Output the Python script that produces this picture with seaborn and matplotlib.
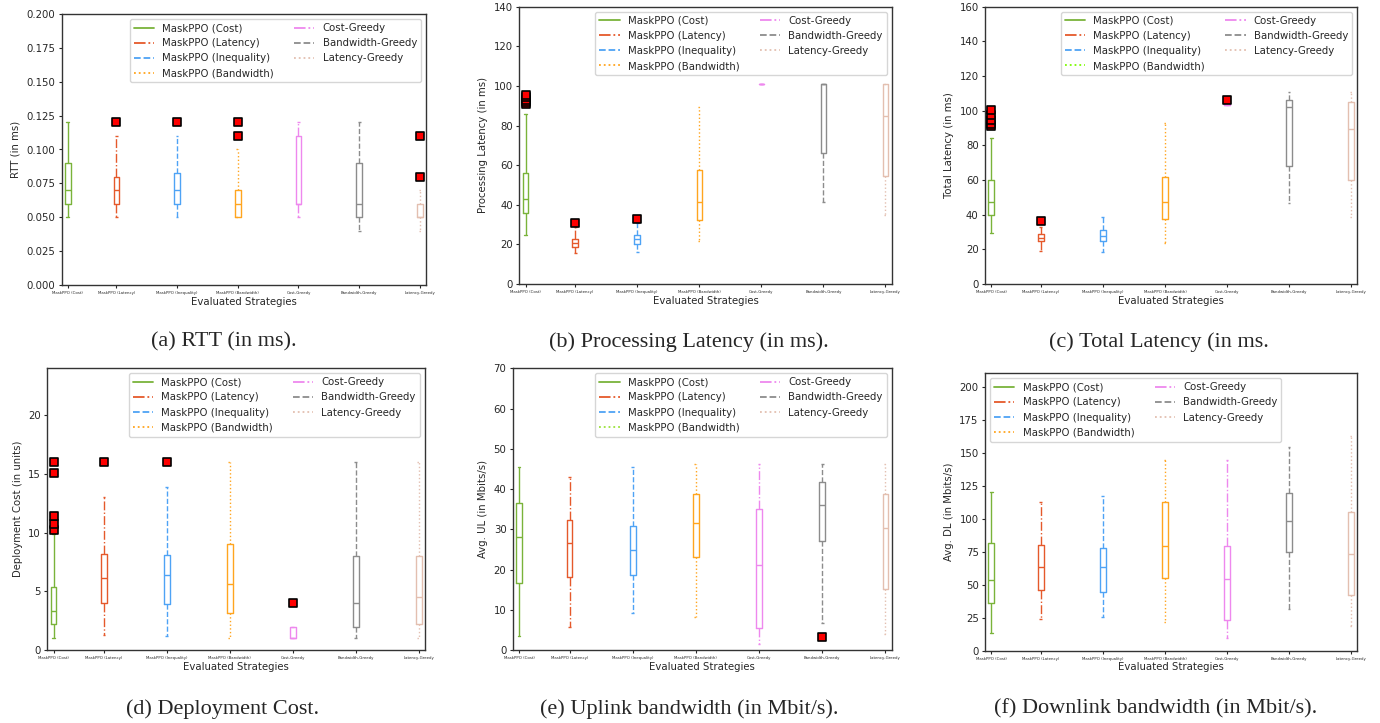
import numpy as np
import pandas as pd
import seaborn as sns
import matplotlib.pyplot as plt
from matplotlib.lines import Line2D

# strategies and style per strategy
strategies = ["MaskPPO (Cost)", "MaskPPO (Latency)", "MaskPPO (Inequality)", "MaskPPO (Bandwidth)",
              "Cost-Greedy", "Bandwidth-Greedy", "Latency-Greedy"]
colors = ["#7ab33a", "#e5592b", "#4ea3f5", "#ffa51f", "#ee88ee", "#8c8c8c", "#e3bfb0"]
styles = ["-", "-.", "--", ":", "-.", "--", ":"]

# five-number summaries [low whisker, Q1, median, Q3, high whisker] per strategy
rtt_stats = [[0.05, 0.06, 0.07, 0.09, 0.12], [0.05, 0.06, 0.07, 0.08, 0.11], [0.05, 0.06, 0.07, 0.0825, 0.11],
             [0.05, 0.05, 0.06, 0.07, 0.10], [0.05, 0.06, 0.06, 0.11, 0.12], [0.04, 0.05, 0.06, 0.09, 0.12],
             [0.04, 0.05, 0.05, 0.06, 0.07]]
rtt_out = [[], [0.12], [0.12], [0.11, 0.12], [], [], [0.08, 0.11]]

proc_stats = [[24.7, 35.7, 42.9, 55.9, 85.8], [15.5, 18.8, 20.9, 22.9, 28.9], [16, 20, 22.5, 24.9, 30.6],
              [21.5, 32.1, 41.2, 57.4, 89.5], [101, 101, 101, 101, 101], [41.2, 66, 101, 101, 101],
              [35, 54.7, 84.6, 101, 101]]
proc_out = [[91, 92, 93, 94.5, 95.5], [31], [33], [], [], [], []]

total_stats = [[29.2, 39.6, 47.1, 59.8, 84.4], [19.2, 24.8, 26.7, 28.7, 33], [18.3, 24.8, 27.7, 31.2, 38.8],
               [23.8, 37.3, 47.1, 61.9, 92.7], [103, 103, 103.5, 104.5, 105], [46.5, 68.3, 102, 106, 111],
               [38.5, 60, 89.2, 105.2, 111]]
total_out = [[91, 92.5, 94.5, 97.5, 100.4], [36.3], [], [], [106], [], []]

cost_stats = [[1.0, 2.2, 3.33, 5.4, 9.9], [1.28, 4.0, 6.1, 8.17, 13.0], [1.2, 3.95, 6.4, 8.08, 13.9],
              [1.0, 3.16, 5.6, 9.07, 16], [1, 1, 1, 2, 2], [1, 2, 3.98, 7.97, 16], [1, 2.2, 4.5, 8.05, 16]]
cost_out = [[10.2, 10.7, 11.4, 15.05, 16], [16], [16], [], [4], [], []]

ul_stats = [[3.5, 16.7, 28.2, 36.5, 45.5], [5.8, 18.2, 26.5, 32.3, 42.9], [9.1, 18.6, 24.9, 30.7, 45.5],
            [8.1, 23.0, 31.5, 38.8, 46.3], [1.5, 5.5, 21.2, 35.0, 46.3], [6.6, 27.1, 36.1, 41.8, 46.3],
            [4.1, 15.1, 30.2, 38.8, 46.3]]
ul_out = [[], [], [], [], [], [3.3], []]

dl_stats = [[13.6, 36.1, 53.3, 81.6, 120.5], [23.7, 46.2, 63.1, 79.8, 112.9], [25.3, 44.2, 63.1, 77.8, 116.9],
            [22.0, 54.8, 79.0, 112.9, 144.7], [9.3, 23.0, 54.0, 79.5, 144.7], [31.3, 74.5, 98.0, 119.7, 154.3],
            [18.7, 41.9, 73, 105, 162.9]]
dl_out = [[], [], [], [], [], [], []]

ylabels = ["RTT (in ms)", "Processing Latency (in ms)", "Total Latency (in ms)",
           "Deployment Cost (in units)", "Avg. UL (in Mbits/s)", "Avg. DL (in Mbits/s)"]
captions = ["(a) RTT (in ms).", "(b) Processing Latency (in ms).", "(c) Total Latency (in ms.",
            "(d) Deployment Cost.", "(e) Uplink bandwidth (in Mbit/s).", "(f) Downlink bandwidth (in Mbit/s)."]

sns.set_style("ticks")
plt.rcParams['font.family'] = ['DejaVu Sans']

W, H = 1380, 723
fig = plt.figure(figsize=(13.8, 7.23), dpi=100)

# layout in pixels: left, top, right, bottom
panels = [
    (rtt_stats, rtt_out, (61.7, 14, 426, 285), (0, 0.2), np.arange(0, 0.201, 0.025), "upper right", "#ffa51f", (224, 342)),
    (proc_stats, proc_out, (519.3, 6.7, 891.7, 284), (0, 140), np.arange(0, 141, 20), "upper right", "#ffa51f", (689, 342)),
    (total_stats, total_out, (985, 6.7, 1357.3, 284), (0, 160), np.arange(0, 161, 20), "upper right", "#7cfc00", (1159, 342)),
    (cost_stats, cost_out, (47.3, 368.3, 425, 650), (0, 24), np.arange(0, 21, 5), "upper right", "#ffa51f", (223, 709)),
    (ul_stats, ul_out, (512.7, 368.3, 891.7, 650), (0, 70), np.arange(0, 71, 10), "upper right", "#9be23a", (689, 709)),
    (dl_stats, dl_out, (985, 373.3, 1357.3, 650.7), (0, 210), np.arange(0, 201, 25), "upper left", "#ffa51f", (1156, 709)),
]
positions = [0.2, 1, 2, 3, 4, 5, 6]

for k, (stats, outs, box, ylim, yticks, loc, bw_leg, cap) in enumerate(panels):
    l, t, r, b = box
    ax = fig.add_axes([l / W, 1 - b / H, (r - l) / W, (b - t) / H])
    for i, name in enumerate(strategies):
        df = pd.DataFrame({"pos": [positions[i]] * 5, "val": stats[i]})
        sns.boxplot(data=df, x="pos", y="val", native_scale=True, fill=False, color=colors[i],
                    width=0.09, whis=(0, 100), linewidth=1.0, orient="v", ax=ax)
        cont = ax.containers[-1]
        for ln in list(cont.whiskers) + list(cont.caps):
            ln.set_linestyle(styles[i])
        if outs[i]:
            sns.scatterplot(x=[positions[i]] * len(outs[i]), y=outs[i], marker="s", color="red",
                            edgecolor="black", linewidth=1.2, s=26, zorder=5, ax=ax)
    ax.set_xlim(0.1, 6.1)
    ax.set_ylim(*ylim)
    ax.set_yticks(yticks)
    if k == 0:
        ax.set_yticklabels([f"{v:.3f}" for v in yticks])
    ax.set_xticks(positions)
    ax.set_xticklabels(strategies, fontsize=2.8)
    ax.tick_params(axis="y", labelsize=7.3, length=2.5, width=0.8, pad=2)
    ax.tick_params(axis="x", length=2.5, width=0.8, pad=2)
    ax.set_xlabel("Evaluated Strategies", fontsize=7.3, labelpad=1)
    ax.set_ylabel(ylabels[k], fontsize=7.3)
    for sp in ax.spines.values():
        sp.set_linewidth(1.0)
        sp.set_color("#333333")

    leg_colors = list(colors)
    leg_colors[3] = bw_leg
    handles = [Line2D([0], [0], color=leg_colors[i], linestyle=styles[i], linewidth=1.3) for i in range(7)]
    ax.legend(handles, strategies, loc=loc, ncol=2, fontsize=7.3, frameon=True)

    fig.text(cap[0] / W, 1 - cap[1] / H, captions[k], ha="center", va="center",
             fontsize=16, family="Liberation Serif")

fig.savefig("out.png", dpi=100)
